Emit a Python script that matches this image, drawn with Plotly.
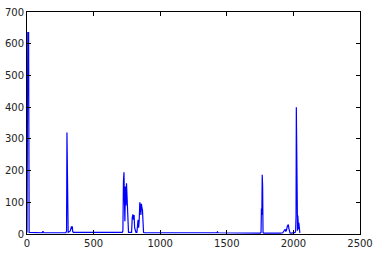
import plotly.graph_objects as go

x_vals = [0, 3, 6, 12, 16, 115, 120, 124, 128, 292, 297, 300, 302, 304, 306, 309, 315, 325, 330, 334, 337, 340, 343, 348,
          715, 720, 724, 728, 731, 735, 739, 743, 747, 751, 755, 758, 762, 766, 772, 785, 790, 795, 800, 804, 808, 813, 818,
          825, 830, 834, 838, 842, 847, 851, 855, 859, 863, 867, 870, 875, 880,
          1425, 1430, 1435, 1752, 1757, 1760, 1763, 1766, 1769, 1772, 1776,
          1895, 1900, 1905, 1920, 1930, 1938, 1943, 1948, 1955, 1962, 1966, 1970, 1975, 1985,
          2008, 2013, 2017, 2020, 2022, 2024, 2027, 2029, 2031, 2033, 2035, 2037, 2039, 2041, 2043, 2045, 2048, 2050]
y_vals = [5, 635, 635, 635, 5, 4, 9, 5, 4, 4, 10, 320, 150, 125, 20, 5, 6, 10, 18, 24, 15, 24, 8, 5,
          5, 10, 165, 195, 120, 40, 150, 90, 160, 110, 60, 20, 5, 5, 5, 5, 50, 62, 45, 60, 20, 5, 5,
          5, 30, 45, 20, 40, 100, 90, 60, 95, 82, 75, 10, 5, 4,
          4, 7, 4, 3, 5, 80, 60, 187, 150, 5, 3,
          3, 4, 3, 4, 10, 15, 8, 12, 25, 30, 18, 8, 3, 3,
          3, 5, 10, 60, 400, 240, 20, 40, 10, 58, 25, 45, 15, 35, 8, 30, 5, 3]

fig = go.Figure()
fig.add_trace(go.Scatter(x=x_vals, y=y_vals, mode="lines",
                         line=dict(color="#0000ff", width=1.2), showlegend=False))

axis_common = dict(showline=True, linecolor="black", linewidth=1, mirror="ticks",
                   ticks="inside", ticklen=4, tickcolor="black", showgrid=False,
                   zeroline=False, automargin=False,
                   tickfont=dict(family="DejaVu Sans", size=10, color="#222222"))

fig.update_xaxes(range=[0, 2500], tickvals=[0, 500, 1000, 1500, 2000, 2500], **axis_common)
fig.update_yaxes(range=[0, 700], tickvals=[0, 100, 200, 300, 400, 500, 600, 700], **axis_common)

fig.update_layout(width=379, height=258, margin=dict(l=27, r=19, t=12, b=24),
                  paper_bgcolor="white", plot_bgcolor="white")

fig.write_html("out.html")
